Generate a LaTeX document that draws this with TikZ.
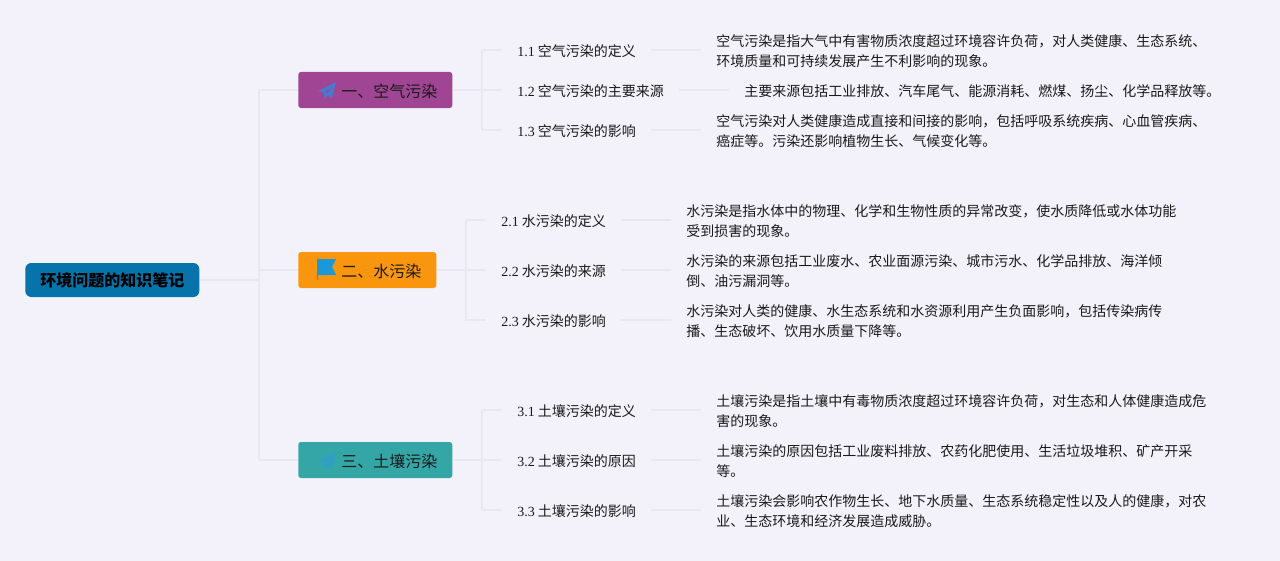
\documentclass[tikz,border=0pt]{standalone}
\usepackage{fontspec}
\setmainfont{Noto Sans CJK SC}
\newfontfamily\numFont{Liberation Serif}
\definecolor{pageColor}{HTML}{F3F2FB}
\definecolor{lineColor}{HTML}{E8E8F0}
\definecolor{rootColor}{HTML}{0773AB}
\definecolor{airColor}{HTML}{A04594}
\definecolor{waterColor}{HTML}{FA960E}
\definecolor{soilColor}{HTML}{35A6A6}
\definecolor{textColor}{HTML}{1A1A1A}
\definecolor{planeAir}{HTML}{4A78D0}
\definecolor{planeSoil}{HTML}{2F9FC8}
\definecolor{flagColor}{HTML}{1A98D8}
\newcommand{\planeIcon}[3]{%%
  \fill[#3,shift={(#1,#2)},even odd rule] (18,0) -- (0,9) -- (6,11) -- (6.5,17) -- (9.5,13.5)
  -- (14,16) -- cycle (15,4) -- (7.5,10) -- (8.5,12) -- cycle;
}
\newcommand{\subLabel}[2]{{\numFont #1} #2}

\begin{document}
\begin{tikzpicture}[%%
  x=0.75pt,y=-0.75pt,
  rootBox/.style={rectangle,rounded corners=4.5pt,fill=rootColor,text=black,
    minimum height=25.5pt,inner xsep=11.25pt,inner ysep=0pt,font=\fontsize{12}{14}\bfseries,anchor=west},
  branchBox/.style={rectangle,rounded corners=2pt,text=textColor,minimum height=27pt,
    text height=10.6pt,text depth=0pt,inner xsep=11.25pt,inner ysep=0pt,
    font=\fontsize{12}{14}\selectfont,anchor=west},
  subBox/.style={inner xsep=11.25pt,inner ysep=0pt,text=textColor,minimum height=18pt,
    text height=9.5pt,text depth=0pt,font=\fontsize{10.5}{15}\selectfont,anchor=west},
  bodyBox/.style={inner xsep=11.25pt,inner ysep=0pt,text=textColor,align=left,
    font=\fontsize{10.5}{15}\selectfont,anchor=west},
  lineStyle/.style={-,draw=lineColor,line width=1pt}%%
]
%%
%%
\useasboundingbox (0,0) rectangle (1280,560);
\fill[pageColor] (-3,-3) rectangle (1283,563);
\pgfmathsetmacro{\trunkX}{259}  %% Vertical line next to the root.
\pgfmathsetmacro{\gapA}{482}    %% Vertical line of sections one and three.
\pgfmathsetmacro{\gapB}{466}    %% Vertical line of section two.
%%
%%
%% Root and the three sections.
\node[rootBox] (root) at (25,280) {环境问题的知识笔记};
\node[branchBox,fill=airColor] (air) at (298,90) {\hspace{21pt}一、空气污染};
\node[branchBox,fill=waterColor] (water) at (298,270) {\hspace{21pt}二、水污染};
\node[branchBox,fill=soilColor] (soil) at (298,460) {\hspace{21pt}三、土壤污染};
%%
%% Icons.
\planeIcon{318}{82}{planeAir}
\fill[flagColor] (317,259) -- (336,259) -- (332,267) -- (336,275) -- (318,275)
  -- (318,280) -- (317,280) -- cycle;
\planeIcon{318}{452}{planeSoil}
%%
%% Section one.
\node[subBox] (airA) at (502,50) {\subLabel{1.1}{空气污染的定义}};
\node[subBox] (airB) at (502,90) {\subLabel{1.2}{空气污染的主要来源}};
\node[subBox] (airC) at (502,130) {\subLabel{1.3}{空气污染的影响}};
\node[bodyBox] (airTextA) at (701,51) {空气污染是指大气中有害物质浓度超过环境容许负荷，对人类健康、生态系统、\\环境质量和可持续发展产生不利影响的现象。};
\node[bodyBox] (airTextB) at (729,91) {主要来源包括工业排放、汽车尾气、能源消耗、燃煤、扬尘、化学品释放等。};
\node[bodyBox] (airTextC) at (701,131) {空气污染对人类健康造成直接和间接的影响，包括呼吸系统疾病、心血管疾病、\\癌症等。污染还影响植物生长、气候变化等。};
%%
%% Section two.
\node[subBox] (waterA) at (486,220) {\subLabel{2.1}{水污染的定义}};
\node[subBox] (waterB) at (486,270) {\subLabel{2.2}{水污染的来源}};
\node[subBox] (waterC) at (486,320) {\subLabel{2.3}{水污染的影响}};
\node[bodyBox] (waterTextA) at (671,221) {水污染是指水体中的物理、化学和生物性质的异常改变，使水质降低或水体功能\\受到损害的现象。};
\node[bodyBox] (waterTextB) at (671,271) {水污染的来源包括工业废水、农业面源污染、城市污水、化学品排放、海洋倾\\倒、油污漏洞等。};
\node[bodyBox] (waterTextC) at (671,321) {水污染对人类的健康、水生态系统和水资源利用产生负面影响，包括传染病传\\播、生态破坏、饮用水质量下降等。};
%%
%% Section three.
\node[subBox] (soilA) at (502,410) {\subLabel{3.1}{土壤污染的定义}};
\node[subBox] (soilB) at (502,460) {\subLabel{3.2}{土壤污染的原因}};
\node[subBox] (soilC) at (502,510) {\subLabel{3.3}{土壤污染的影响}};
\node[bodyBox] (soilTextA) at (701,411) {土壤污染是指土壤中有毒物质浓度超过环境容许负荷，对生态和人体健康造成危\\害的现象。};
\node[bodyBox] (soilTextB) at (701,461) {土壤污染的原因包括工业废料排放、农药化肥使用、生活垃圾堆积、矿产开采\\等。};
\node[bodyBox] (soilTextC) at (701,511) {土壤污染会影响农作物生长、地下水质量、生态系统稳定性以及人的健康，对农\\业、生态环境和经济发展造成威胁。};
%%
%%
%% The connectors.
\coordinate (rootKnee) at (\trunkX,280);
\draw[lineStyle] (root.east) -- (rootKnee);
\draw[lineStyle] (rootKnee) |- (air.west);
\draw[lineStyle] (rootKnee) |- (water.west);
\draw[lineStyle] (rootKnee) |- (soil.west);
\foreach \topic/\knee in {air/\gapA,water/\gapB,soil/\gapA}{
  \coordinate (\topic Knee) at (\knee,0);
  \draw[lineStyle] (\topic.east) -- (\topic Knee |- \topic.east);
  \foreach \row in {A,B,C}{
    \draw[lineStyle] (\topic Knee |- \topic.east) |- (\topic\row.west);
    \draw[lineStyle] (\topic\row.east) -- (\topic Text\row.west |- \topic\row.east);
  }
}
\end{tikzpicture}
\end{document}
